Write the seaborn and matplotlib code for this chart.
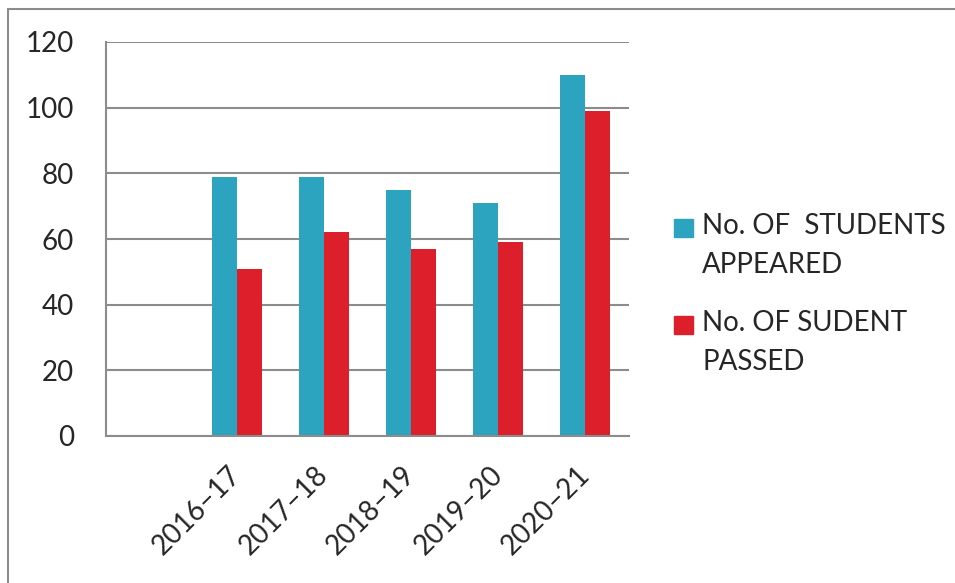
import matplotlib
matplotlib.use("Agg")
import matplotlib.pyplot as plt
import seaborn as sns
import pandas as pd
from matplotlib.patches import Rectangle
from matplotlib.lines import Line2D

years = ["2016–17", "2017–18", "2018–19", "2019–20", "2020–21"]
appeared = [79, 79, 75, 71, 110]
passed = [51, 62, 57, 59, 99]
series_names = ["No. OF  STUDENTS\nAPPEARED", "No. OF SUDENT\nPASSED"]
colors = ["#2CA3BF", "#DC1F2A"]
yticks = [0, 20, 40, 60, 80, 100, 120]

df = pd.DataFrame({
    "year": years * 2,
    "value": appeared + passed,
    "series": [series_names[0]] * len(years) + [series_names[1]] * len(years),
})

sns.set_style("white")
plt.rcParams["font.family"] = ["Lato", "DejaVu Sans"]
FS = 20

W, H = 955, 583
fig = plt.figure(figsize=(W / 100, H / 100), dpi=100)
ax = fig.add_axes([106 / W, 1 - 436 / H, (629 - 106) / W, (436 - 42) / H])

order = [" "] + years
sns.barplot(data=df, x="year", y="value", hue="series", order=order,
            hue_order=series_names, palette=colors, width=0.572,
            saturation=1, ax=ax, legend=False, edgecolor="none")

grid_c = "#8C8C8C"
ax.set_ylim(0, 120)
ax.set_xlim(-0.5, len(order) - 0.5)
ax.set_yticks(yticks)
ax.set_yticklabels([str(v) for v in yticks], fontsize=FS)
for v in yticks:
    ax.axhline(v, color=grid_c, lw=1.5, zorder=0)

ax.set_xticks([i - 0.5 for i in range(len(order) + 1)])
ax.set_xticklabels([])
ax.set_xticks(range(len(order)), minor=True)
ax.set_xticklabels(order, minor=True, rotation=45, ha="right", va="center",
                   rotation_mode="anchor", fontsize=FS)
ax.tick_params(axis="x", which="minor", length=0, pad=25)
ax.tick_params(axis="x", which="major", length=6, width=1.5, color=grid_c, direction="out")
ax.tick_params(axis="y", length=7, width=1.5, color=grid_c, direction="out", pad=16)
ax.set_xlabel("")
ax.set_ylabel("")
for s in ["top", "right"]:
    ax.spines[s].set_visible(False)
for s in ["left", "bottom"]:
    ax.spines[s].set_color(grid_c)
    ax.spines[s].set_linewidth(1.5)

# legend
leg_y = [228, 325]
leg_base = [273, 370]
for name, c, yc, yb in zip(series_names, colors, leg_y, leg_base):
    fig.patches.append(Rectangle((674 / W, 1 - (yc + 9) / H), 19 / W, 18 / H,
                                 transform=fig.transFigure, color=c, figure=fig))
    fig.text(702 / W, 1 - yb / H, name, fontsize=FS, va="baseline", ha="left",
             linespacing=1.62)

# outer frame (top and left edges visible)
fig.add_artist(Line2D([7.5 / W, 7.5 / W], [0, 1 - 8.5 / H], transform=fig.transFigure,
                      color=grid_c, lw=1.5))
fig.add_artist(Line2D([7.5 / W, 1], [1 - 8.5 / H, 1 - 8.5 / H], transform=fig.transFigure,
                      color=grid_c, lw=1.5))

fig.savefig("out.png", dpi=100)
